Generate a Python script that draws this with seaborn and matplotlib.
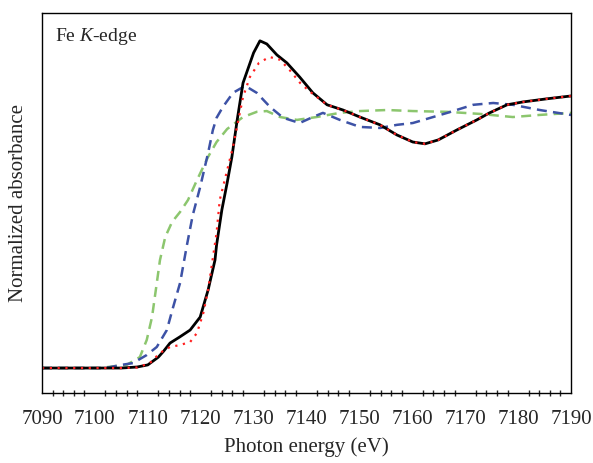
import numpy as np
import pandas as pd
import matplotlib
matplotlib.use("Agg")
import matplotlib.pyplot as plt
import seaborn as sns
from matplotlib.ticker import MultipleLocator

# ---- data (photon energy in eV, normalized absorbance) ----
black_x = [7090, 7105, 7108, 7110, 7112, 7113, 7114.2, 7116, 7118, 7119.9, 7121.4, 7122.7, 7123,
           7124, 7125, 7125.9, 7126.9, 7128, 7130, 7131.2, 7132.5, 7134.4, 7136.3, 7138.7, 7141.2,
           7143.9, 7146.9, 7150.1, 7153.9, 7157.1, 7160.1, 7162.4, 7164.9, 7168.4, 7172.2, 7174.6,
           7177.9, 7180.9, 7185.4, 7190]
black_y = [0, 0, 0.004, 0.012, 0.042, 0.065, 0.096, 0.119, 0.146, 0.196, 0.300, 0.415, 0.473,
           0.608, 0.712, 0.812, 0.954, 1.096, 1.212, 1.258, 1.246, 1.204, 1.173, 1.119, 1.058,
           1.012, 0.992, 0.965, 0.935, 0.896, 0.869, 0.862, 0.877, 0.915, 0.954, 0.981,
           1.012, 1.023, 1.035, 1.046]

red_x = [7090, 7105, 7108, 7110.4, 7112.3, 7114.2, 7116, 7118, 7119.3, 7120.5, 7121.4, 7123, 7123.6,
         7126.1, 7128, 7129.3, 7131, 7133, 7135, 7136.8, 7138.8, 7140.7, 7143.9, 7146.9, 7150.1,
         7153.9, 7157.1, 7160.1, 7162.4, 7164.9, 7168.4, 7172.2, 7174.6, 7177.9, 7180.9, 7185.4, 7190]
red_y = [0, 0, 0.002, 0.019, 0.058, 0.081, 0.088, 0.100, 0.135, 0.212, 0.300, 0.519, 0.646,
         0.850, 1.042, 1.119, 1.173, 1.196, 1.185, 1.146, 1.096, 1.062, 1.012, 0.992, 0.965,
         0.935, 0.896, 0.869, 0.862, 0.877, 0.915, 0.954, 0.981, 1.012, 1.023, 1.035, 1.046]

blue_x = [7090, 7102, 7105, 7107.2, 7109.8, 7111.7, 7113.6, 7114.8, 7116.1, 7117.4, 7118.5, 7119.9,
          7121.4, 7122.3, 7123, 7124.2, 7126.1, 7128.4, 7130.6, 7133.1, 7135.6, 7138.7, 7141.2,
          7143.1, 7146.3, 7150.1, 7153.9, 7157.1, 7160.1, 7166.6, 7171.5, 7175.3, 7179, 7184.1, 7190]
blue_y = [0, 0, 0.012, 0.019, 0.050, 0.081, 0.146, 0.235, 0.327, 0.473, 0.588, 0.696,
          0.827, 0.915, 0.962, 1.004, 1.058, 1.085, 1.058, 1.004, 0.962, 0.942, 0.965,
          0.981, 0.954, 0.927, 0.923, 0.935, 0.942, 0.981, 1.012, 1.019, 1.012, 0.992, 0.973]

green_x = [7090, 7101, 7104, 7106, 7108.5, 7109.8, 7110.8, 7111.7, 7112.3, 7113.3, 7114.6, 7116.1,
           7117.6, 7119.3, 7121.4, 7123, 7125, 7128, 7130.6, 7132.5, 7135, 7138.2, 7141.9, 7146.3,
           7150.1, 7155.2, 7160.1, 7166.6, 7172.8, 7179, 7184, 7190]
green_y = [0, 0, 0.008, 0.012, 0.042, 0.108, 0.196, 0.327, 0.415, 0.504, 0.562, 0.600,
           0.646, 0.723, 0.812, 0.869, 0.919, 0.965, 0.985, 0.988, 0.965, 0.954, 0.965, 0.981,
           0.988, 0.992, 0.988, 0.985, 0.977, 0.965, 0.973, 0.981]

x_ticks = [7090, 7100, 7110, 7120, 7130, 7140, 7150, 7160, 7170, 7180, 7190]

sns.set_style("white")
plt.rcParams['font.family'] = ['Liberation Serif', 'DejaVu Serif']
plt.rcParams['mathtext.fontset'] = 'custom'
plt.rcParams['mathtext.it'] = 'Liberation Serif:italic'
plt.rcParams['mathtext.rm'] = 'Liberation Serif'

fig = plt.figure(figsize=(5.93, 4.63), dpi=100)
ax = fig.add_axes([42/593, (463-393)/463, (571-42)/593, (393-13)/463])

sns.lineplot(x=green_x, y=green_y, ax=ax, color='#8cc66e', lw=1.8, linestyle=(0, (4, 2.5)),
             estimator=None, sort=False)
sns.lineplot(x=blue_x, y=blue_y, ax=ax, color='#3d52a6', lw=1.8, linestyle=(0, (4, 2.5)),
             estimator=None, sort=False)
sns.lineplot(x=black_x, y=black_y, ax=ax, color='black', lw=2.0, estimator=None, sort=False)
sns.lineplot(x=red_x, y=red_y, ax=ax, color='#ff2020', lw=1.6, linestyle=(0, (1, 2.5)),
             estimator=None, sort=False)

ax.set_xlim(7090, 7190)
ax.set_ylim(-0.096, 1.365)
ax.set_xticks(x_ticks)
ax.set_xticklabels([str(t) for t in x_ticks], fontsize=15)
ax.xaxis.set_minor_locator(MultipleLocator(2))
ax.tick_params(axis='x', which='major', direction='inout', length=8, width=1, pad=8)
ax.tick_params(axis='x', which='minor', direction='inout', length=4, width=1, bottom=True)
ax.set_yticks([])
for s in ax.spines.values():
    s.set_color('black')
    s.set_linewidth(1.0)

ax.set_xlabel('Photon energy (eV)', fontsize=15, labelpad=6)
ax.set_ylabel('Normalized absorbance', fontsize=15, labelpad=10)
ax.text(0.025, 0.965, r'Fe $K$-edge', transform=ax.transAxes, fontsize=14, va='top', ha='left')

fig.savefig('out.png', dpi=100)
